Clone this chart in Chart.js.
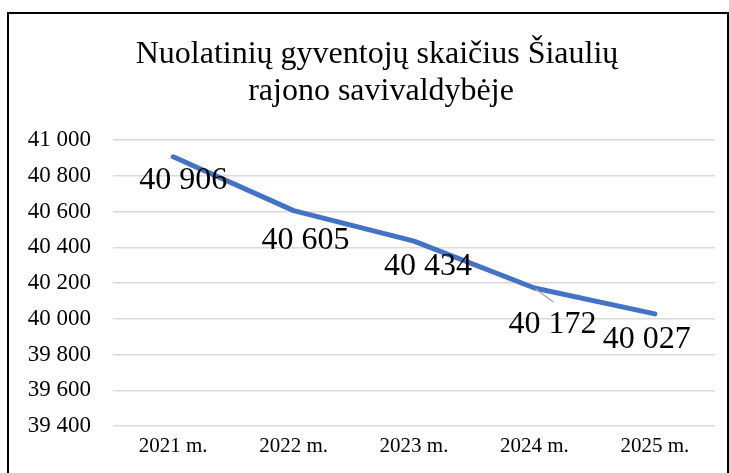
<!DOCTYPE html>
<html>
<head>
<meta charset="utf-8">
<script src="https://cdn.jsdelivr.net/npm/chart.js@4.4.0/dist/chart.umd.min.js"></script>
<style>
  html, body { margin: 0; padding: 0; background: #fff; overflow: hidden; }
  #frame { position: absolute; left: 7px; top: 12px; width: 718px; height: 520px; border: 2px solid #000; box-sizing: content-box; }
  #wrap { position: absolute; left: 0; top: 0; width: 729px; height: 473px; }
</style>
</head>
<body>
<div id="frame"></div>
<div id="wrap"><canvas id="c" width="729" height="473"></canvas></div>
<script>
const titleLines = ['Nuolatinių gyventojų skaičius Šiaulių', 'rajono savivaldybėje'];
const categories = ['2021 m.', '2022 m.', '2023 m.', '2024 m.', '2025 m.'];
const population = [40906, 40605, 40434, 40172, 40027];
const yMin = 39400, yMax = 41000, yStep = 200;

const fmt = v => String(v).replace(/\B(?=(\d{3})+(?!\d))/g, ' ');
const FONT = '"Liberation Serif", "Times New Roman", serif';

const titlePlugin = {
  id: 'titleText',
  afterDraw(chart) {
    const ctx = chart.ctx;
    ctx.save();
    ctx.fillStyle = '#000';
    ctx.font = '32px ' + FONT;
    ctx.textAlign = 'center';
    ctx.textBaseline = 'alphabetic';
    ctx.fillText(titleLines[0], 377, 63);
    ctx.fillText(titleLines[1], 381, 100);
    ctx.restore();
  }
};

const labelPlugin = {
  id: 'valueLabels',
  afterDatasetsDraw(chart, args, opts) {
    const ctx = chart.ctx;
    const meta = chart.getDatasetMeta(0);
    ctx.save();
    meta.data.forEach((pt, i) => {
      const off = opts.offsets[i];
      if (opts.leader[i]) {
        ctx.strokeStyle = '#a6a6a6';
        ctx.lineWidth = 1.5;
        ctx.beginPath();
        ctx.moveTo(pt.x + 1, pt.y + 1);
        ctx.lineTo(pt.x + 19, pt.y + 14);
        ctx.stroke();
      }
      ctx.fillStyle = '#000';
      ctx.font = '32px ' + FONT;
      ctx.textAlign = 'center';
      ctx.textBaseline = 'middle';
      ctx.fillText(fmt(population[i]), pt.x + off[0], pt.y + off[1]);
    });
    ctx.restore();
  }
};

new Chart(document.getElementById('c'), {
  type: 'line',
  data: {
    labels: categories,
    datasets: [{
      data: population,
      borderColor: '#4472C4',
      borderWidth: 5,
      borderCapStyle: 'round',
      borderJoinStyle: 'round',
      pointRadius: 0,
      pointHoverRadius: 0,
      tension: 0,
      fill: false
    }]
  },
  options: {
    responsive: false,
    animation: false,
    events: [],
    layout: { padding: { top: 140, right: 14, bottom: 0, left: 0 } },
    plugins: {
      legend: { display: false },
      title: { display: false },
      tooltip: { enabled: false },
      valueLabels: {
        offsets: [[10, 24], [12, 30], [14, 25], [18, 37], [-8, 26]],
        leader: [false, false, false, true, false]
      }
    },
    scales: {
      x: {
        offset: true,
        grid: { display: false, drawTicks: false },
        border: { display: false },
        ticks: { color: '#000', font: { family: FONT, size: 21 }, padding: 8, maxRotation: 0 },
        afterFit(s) { s.height = 47; }
      },
      y: {
        min: yMin, max: yMax,
        grid: { color: '#d9d9d9', lineWidth: 1.5, drawTicks: false },
        border: { display: false },
        ticks: { stepSize: yStep, color: '#000', font: { family: FONT, size: 23 }, padding: 22,
                 callback: v => fmt(v) },
        afterFit(s) { s.width = 113; }
      }
    }
  },
  plugins: [titlePlugin, labelPlugin]
});
</script>
</body>
</html>
